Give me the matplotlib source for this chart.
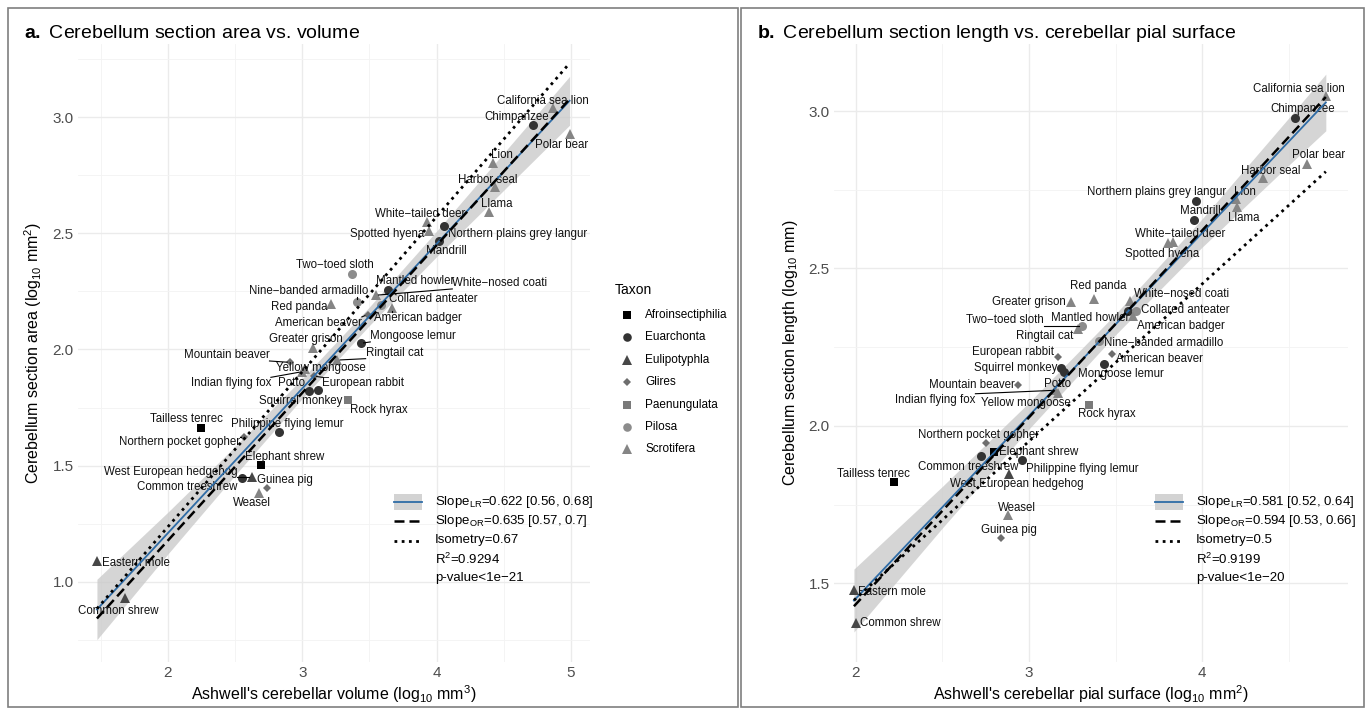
import numpy as np
import matplotlib
matplotlib.use('Agg')
import matplotlib.pyplot as plt
from matplotlib.patches import Rectangle

plt.rcParams['font.family'] = ['Liberation Sans', 'DejaVu Sans']
plt.rcParams['mathtext.fontset'] = 'custom'
plt.rcParams['mathtext.rm'] = 'Liberation Sans'
plt.rcParams['mathtext.it'] = 'Liberation Sans:italic'
plt.rcParams['mathtext.bf'] = 'Liberation Sans:bold'

M = '\u2212'

# ---- data ----
species = ['California sea lion', 'Chimpanzee', 'Polar bear', 'Lion', 'Harbor seal', 'Llama',
           'White' + M + 'tailed deer', 'Spotted hyena', 'Northern plains grey langur', 'Mandrill',
           'Two' + M + 'toed sloth', 'Mantled howler', 'White' + M + 'nosed coati',
           'Nine' + M + 'banded armadillo', 'Collared anteater', 'Red panda', 'American beaver',
           'American badger', 'Greater grison', 'Mongoose lemur', 'Mountain beaver', 'Ringtail cat',
           'Yellow mongoose', 'Indian flying fox', 'Potto', 'European rabbit', 'Squirrel monkey',
           'Rock hyrax', 'Tailless tenrec', 'Philippine flying lemur', 'Northern pocket gopher',
           'Elephant shrew', 'West European hedgehog', 'Guinea pig', 'Common treeshrew', 'Weasel',
           'Eastern mole', 'Common shrew']

taxon = ['Scrotifera', 'Euarchonta', 'Scrotifera', 'Scrotifera', 'Scrotifera', 'Scrotifera',
         'Scrotifera', 'Scrotifera', 'Euarchonta', 'Euarchonta',
         'Pilosa', 'Euarchonta', 'Scrotifera',
         'Pilosa', 'Pilosa', 'Scrotifera', 'Glires',
         'Scrotifera', 'Scrotifera', 'Euarchonta', 'Glires', 'Scrotifera',
         'Scrotifera', 'Scrotifera', 'Euarchonta', 'Glires', 'Euarchonta',
         'Paenungulata', 'Afroinsectiphilia', 'Euarchonta', 'Glires',
         'Afroinsectiphilia', 'Eulipotyphla', 'Glires', 'Euarchonta', 'Scrotifera',
         'Eulipotyphla', 'Eulipotyphla']

# panel a: log10 cerebellar volume vs log10 section area
volume = [4.863, 4.72, 4.99, 4.419, 4.434, 4.39, 3.925, 3.943, 4.052, 4.02,
          3.369, 3.636, 3.545, 3.41, 3.586, 3.214, 3.486, 3.666, 3.077, 3.434,
          2.91, 3.259, 3.02, 2.998, 3.047, 3.085, 3.117, 3.339, 2.249, 2.828,
          2.569, 2.693, 2.623, 2.736, 2.551, 2.681, 1.471, 1.683]
section_area = [3.039, 2.964, 2.926, 2.804, 2.697, 2.591, 2.547, 2.511, 2.533, 2.467,
                2.324, 2.257, 2.233, 2.204, 2.189, 2.195, 2.15, 2.179, 2.007, 2.026,
                1.944, 1.954, 1.915, 1.904, 1.822, 1.885, 1.825, 1.782, 1.663, 1.644,
                1.624, 1.502, 1.452, 1.405, 1.445, 1.384, 1.089, 0.931]

# panel b: log10 pial surface vs log10 section length
pial_surface = [4.713, 4.537, 4.606, 4.194, 4.352, 4.198, 3.83, 3.80, 3.963, 3.954,
                3.304, 3.573, 3.583, 3.406, 3.617, 3.377, 3.477, 3.602, 3.242, 3.433,
                2.938, 3.285, 3.17, 3.15, 3.204, 3.169, 3.185, 3.348, 2.223, 2.958,
                2.753, 2.80, 2.885, 2.838, 2.721, 2.881, 1.99, 2.0]
section_length = [3.047, 2.979, 2.833, 2.721, 2.787, 2.695, 2.585, 2.58, 2.713, 2.655,
                  2.318, 2.365, 2.396, 2.271, 2.365, 2.404, 2.227, 2.349, 2.394, 2.195,
                  2.13, 2.308, 2.105, 2.113, 2.17, 2.219, 2.184, 2.067, 1.821, 1.892,
                  1.945, 1.918, 1.848, 1.644, 1.903, 1.716, 1.478, 1.374]

taxa = ['Afroinsectiphilia', 'Euarchonta', 'Eulipotyphla', 'Glires', 'Paenungulata', 'Pilosa', 'Scrotifera']

# fitted lines (slope, intercept) and confidence band half widths
fit_a = {'lr': (0.622, -0.034), 'or': (0.635, -0.092), 'iso': (0.667, -0.097)}
band_a_x = [1.471, 2.0, 2.5, 3.0, 3.5, 4.0, 4.5, 4.99]
band_a_hw = [0.13, 0.09, 0.062, 0.043, 0.04, 0.055, 0.08, 0.105]
stats_a = ['Slope$_{\\mathrm{LR}}$=0.622 [0.56, 0.68]', 'Slope$_{\\mathrm{OR}}$=0.635 [0.57, 0.7]',
           'Isometry=0.67', 'R$^{2}$=0.9294', 'p-value<1e' + M + '21']

fit_b = {'lr': (0.581, 0.289), 'or': (0.594, 0.245), 'iso': (0.5, 0.451)}
band_b_x = [1.99, 2.5, 3.0, 3.5, 4.0, 4.5, 4.713]
band_b_hw = [0.10, 0.066, 0.042, 0.033, 0.045, 0.075, 0.09]
stats_b = ['Slope$_{\\mathrm{LR}}$=0.581 [0.52, 0.64]', 'Slope$_{\\mathrm{OR}}$=0.594 [0.53, 0.66]',
           'Isometry=0.5', 'R$^{2}$=0.9199', 'p-value<1e' + M + '20']

# ---- styles ----
t_marker = {'Afroinsectiphilia': 's', 'Euarchonta': 'o', 'Eulipotyphla': '^', 'Glires': 'D',
            'Paenungulata': 's', 'Pilosa': 'o', 'Scrotifera': '^'}
t_color = {'Afroinsectiphilia': '#000000', 'Euarchonta': '#333333', 'Eulipotyphla': '#474747',
           'Glires': '#6e6e6e', 'Paenungulata': '#7a7a7a', 'Pilosa': '#8c8c8c', 'Scrotifera': '#858585'}
t_size = {'Afroinsectiphilia': 6.0, 'Euarchonta': 6.5, 'Eulipotyphla': 7.5, 'Glires': 3.8,
          'Paenungulata': 6.0, 'Pilosa': 6.5, 'Scrotifera': 7.5}

# label placements (label centre, data units) - layout only
lab_a = {
    'California sea lion': (4.79, 3.069), 'Chimpanzee': (4.593, 3.0), 'Polar bear': (4.93, 2.879),
    'Lion': (4.484, 2.836), 'Harbor seal': (4.377, 2.731), 'Llama': (4.449, 2.624),
    'White' + M + 'tailed deer': (3.875, 2.583), 'Spotted hyena': (3.631, 2.496),
    'Northern plains grey langur': (4.606, 2.496), 'Mandrill': (4.075, 2.424),
    'Two' + M + 'toed sloth': (3.245, 2.364), 'Mantled howler': (3.838, 2.296),
    'White' + M + 'nosed coati': (4.471, 2.286), 'Nine' + M + 'banded armadillo': (3.05, 2.253),
    'Collared anteater': (3.973, 2.217), 'Red panda': (2.975, 2.182), 'American beaver': (3.12, 2.114),
    'American badger': (3.858, 2.133), 'Greater grison': (3.025, 2.043), 'Mongoose lemur': (3.826, 2.058),
    'Ringtail cat': (3.685, 1.986), 'Mountain beaver': (2.436, 1.976), 'Yellow mongoose': (3.14, 1.918),
    'Indian flying fox': (2.467, 1.854), 'Potto': (2.923, 1.854), 'European rabbit': (3.455, 1.854),
    'Squirrel monkey': (2.99, 1.778), 'Rock hyrax': (3.57, 1.739), 'Tailless tenrec': (2.14, 1.70),
    'Philippine flying lemur': (2.888, 1.681), 'Northern pocket gopher': (2.083, 1.603),
    'Elephant shrew': (2.87, 1.538), 'West European hedgehog': (2.018, 1.473), 'Guinea pig': (2.868, 1.438),
    'Common treeshrew': (2.143, 1.409), 'Weasel': (2.627, 1.34), 'Eastern mole': (1.763, 1.079),
    'Common shrew': (1.631, 0.875)}
seg_a = ['White' + M + 'nosed coati', 'Nine' + M + 'banded armadillo', 'American beaver', 'American badger',
         'Mongoose lemur', 'Ringtail cat', 'Mountain beaver', 'Indian flying fox', 'European rabbit',
         'West European hedgehog', 'Northern pocket gopher']

lab_b = {
    'California sea lion': (4.56, 3.069), 'Chimpanzee': (4.579, 3.005), 'Polar bear': (4.669, 2.859),
    'Harbor seal': (4.394, 2.81), 'Northern plains grey langur': (3.737, 2.742), 'Lion': (4.248, 2.742),
    'Mandrill': (3.99, 2.684), 'Llama': (4.242, 2.66), 'White' + M + 'tailed deer': (3.873, 2.609),
    'Spotted hyena': (3.771, 2.545), 'Red panda': (3.402, 2.444), 'Greater grison': (3.002, 2.393),
    'White' + M + 'nosed coati': (3.883, 2.419), 'Collared anteater': (3.9, 2.367),
    'Two' + M + 'toed sloth': (2.863, 2.337), 'Mantled howler': (3.352, 2.342), 'Ringtail cat': (3.09, 2.287),
    'American badger': (3.879, 2.316), 'Nine' + M + 'banded armadillo': (3.779, 2.264),
    'European rabbit': (2.908, 2.236), 'American beaver': (3.752, 2.213), 'Squirrel monkey': (2.921, 2.184),
    'Mongoose lemur': (3.529, 2.164), 'Mountain beaver': (2.669, 2.131), 'Potto': (3.164, 2.133),
    'Indian flying fox': (2.459, 2.083), 'Yellow mongoose': (2.985, 2.072), 'Rock hyrax': (3.45, 2.037),
    'Northern pocket gopher': (2.707, 1.971), 'Elephant shrew': (3.057, 1.918),
    'Common treeshrew': (2.65, 1.869), 'Philippine flying lemur': (3.306, 1.863),
    'West European hedgehog': (2.929, 1.816), 'Tailless tenrec': (2.105, 1.848), 'Weasel': (2.928, 1.74),
    'Guinea pig': (2.882, 1.67), 'Eastern mole': (2.207, 1.471), 'Common shrew': (2.258, 1.373)}
seg_b = ['Two' + M + 'toed sloth', 'Indian flying fox']

W, H = 1371, 711
fig = plt.figure(figsize=(W / 100, H / 100), dpi=100)
fig.patch.set_facecolor('white')


def px_rect(l, t, r, b):
    return [l / W, 1 - b / H, (r - l) / W, (b - t) / H]


# panel pixel boxes and the matching data ranges
TOP, BOT = 44, 662
ax_a = fig.add_axes(px_rect(78, TOP, 590, BOT))
ax_b = fig.add_axes(px_rect(834, TOP, 1348, BOT))
ylim_a = (3.0 - (BOT - 117) / 232.4, 3.0 + (117 - TOP) / 232.4)
ylim_b = (3.0 - (BOT - 111.7) / 318.0, 3.0 + (111.7 - TOP) / 318.0)

BLUE = '#2f6ca6'


def draw_panel(ax, xs, ys, labs, fit, bx, bhw, xlim, ylim, xmaj, xmin, ymaj, ymin, xlabel, ylabel):
    ax.set_xlim(*xlim)
    ax.set_ylim(*ylim)
    for s in ax.spines.values():
        s.set_visible(False)
    ax.set_xticks(xmaj)
    ax.set_xticks(xmin, minor=True)
    ax.set_yticks(ymaj)
    ax.set_yticks(ymin, minor=True)
    ax.set_xticklabels([str(v) for v in xmaj])
    ax.set_yticklabels(['%.1f' % v for v in ymaj])
    ax.tick_params(which='both', length=0, labelsize=11, labelcolor='#4d4d4d', pad=3)
    ax.grid(which='major', color='#ebebeb', lw=1.0)
    ax.grid(which='minor', color='#f3f3f3', lw=0.6)
    ax.set_axisbelow(True)
    ax.set_xlabel(xlabel, fontsize=11.5, labelpad=2)
    ax.set_ylabel(ylabel, fontsize=11.5, labelpad=6)

    xs = np.array(xs)
    ys = np.array(ys)
    # confidence band around the LR line
    bx = np.array(bx)
    c = fit['lr'][0] * bx + fit['lr'][1]
    ax.fill_between(bx, c - np.array(bhw), c + np.array(bhw), color='#c8c8c8', alpha=0.75, lw=0, zorder=2)

    # points
    for t in taxa:
        idx = [i for i, tt in enumerate(taxon) if tt == t]
        ax.plot(xs[idx], ys[idx], ls='none', marker=t_marker[t], color=t_color[t],
                ms=t_size[t], mew=0, zorder=3)

    # labels
    texts = {}
    for name in species:
        lx, ly = labs[name]
        texts[name] = ax.text(lx, ly, name, fontsize=8.3, ha='center', va='center',
                              color='#111111', zorder=4, clip_on=False)

    # regression lines over the data range
    xr = np.array([xs.min(), xs.max()])
    ax.plot(xr, fit['lr'][0] * xr + fit['lr'][1], color=BLUE, lw=1.3, zorder=5)
    ax.plot(xr, fit['or'][0] * xr + fit['or'][1], color='black', lw=1.8, ls=(0, (4, 2)), zorder=6)
    ax.plot(xr, fit['iso'][0] * xr + fit['iso'][1], color='black', lw=2.0, ls=(0, (1, 1.6)), zorder=6)
    return texts


texts_a = draw_panel(ax_a, volume, section_area, lab_a, fit_a, band_a_x, band_a_hw,
                     (1.33, 5.142), ylim_a, [2, 3, 4, 5], [1.5, 2.5, 3.5, 4.5],
                     [1.0, 1.5, 2.0, 2.5, 3.0], [0.75, 1.25, 1.75, 2.25, 2.75, 3.25],
                     "Ashwell's cerebellar volume (log$_{10}$ mm$^{3}$)",
                     'Cerebellum section area (log$_{10}$ mm$^{2}$)')
texts_b = draw_panel(ax_b, pial_surface, section_length, lab_b, fit_b, band_b_x, band_b_hw,
                     (1.875, 4.841), ylim_b, [2, 3, 4], [2.5, 3.5, 4.5],
                     [1.5, 2.0, 2.5, 3.0], [1.25, 1.75, 2.25, 2.75],
                     "Ashwell's cerebellar pial surface (log$_{10}$ mm$^{2}$)",
                     'Cerebellum section length (log$_{10}$ mm)')

# repel segments from label box to point
fig.canvas.draw()
rend = fig.canvas.get_renderer()
for ax, texts, xs, ys, segs in [(ax_a, texts_a, volume, section_area, seg_a),
                                (ax_b, texts_b, pial_surface, section_length, seg_b)]:
    inv = ax.transData.inverted()
    for name in segs:
        i = species.index(name)
        p = ax.transData.transform((xs[i], ys[i]))
        bb = texts[name].get_window_extent(rend)
        cx = min(max(p[0], bb.x0), bb.x1)
        cy = min(max(p[1], bb.y0), bb.y1)
        d = np.hypot(p[0] - cx, p[1] - cy)
        if d < 4:
            continue
        ex = p[0] - (p[0] - cx) * 3 / d
        ey = p[1] - (p[1] - cy) * 3 / d
        (x0, y0), (x1, y1) = inv.transform((cx, cy)), inv.transform((ex, ey))
        ax.plot([x0, x1], [y0, y1], color='black', lw=0.8, zorder=4)

# ---- overlay in pixel coordinates: frames, titles, legends ----
ov = fig.add_axes([0, 0, 1, 1], zorder=10)
ov.set_xlim(0, W)
ov.set_ylim(H, 0)
ov.axis('off')
ov.patch.set_alpha(0)

ov.add_patch(Rectangle((8, 8), 730, 699, fill=False, ec='#7f7f7f', lw=1.2))
ov.add_patch(Rectangle((741, 8), 623, 699, fill=False, ec='#7f7f7f', lw=1.2))

ov.text(24, 33, '$\\mathbf{a.}$ Cerebellum section area vs. volume', fontsize=14, va='center', ha='left')
ov.text(757, 33, '$\\mathbf{b.}$ Cerebellum section length vs. cerebellar pial surface', fontsize=14,
        va='center', ha='left')

# taxon legend
ov.text(615, 290, 'Taxon', fontsize=10, va='center', ha='left')
for k, t in enumerate(taxa):
    y = 315 + 22.4 * k
    ov.plot(627, y, marker=t_marker[t], color=t_color[t], ms=t_size[t] * 0.95, mew=0)
    ov.text(645, y, t, fontsize=8.5, va='center', ha='left')

# statistics legends
for kx, tx, stats in [(394, 435, stats_a), (1155, 1196, stats_b)]:
    y0 = 502
    ov.add_patch(Rectangle((kx, y0 - 8), 28, 16, color='#d3d3d3', lw=0))
    ov.plot([kx, kx + 28], [y0, y0], color=BLUE, lw=1.3)
    ov.plot([kx, kx + 28], [y0 + 19, y0 + 19], color='black', lw=1.8, ls=(0, (4, 2)))
    ov.plot([kx, kx + 28], [y0 + 38.5, y0 + 38.5], color='black', lw=2.0, ls=(0, (1, 1.6)))
    for k, s in enumerate(stats):
        ov.text(tx, y0 + 19 * k, s, fontsize=9.5, va='center', ha='left')

fig.savefig('out.png', dpi=100)
